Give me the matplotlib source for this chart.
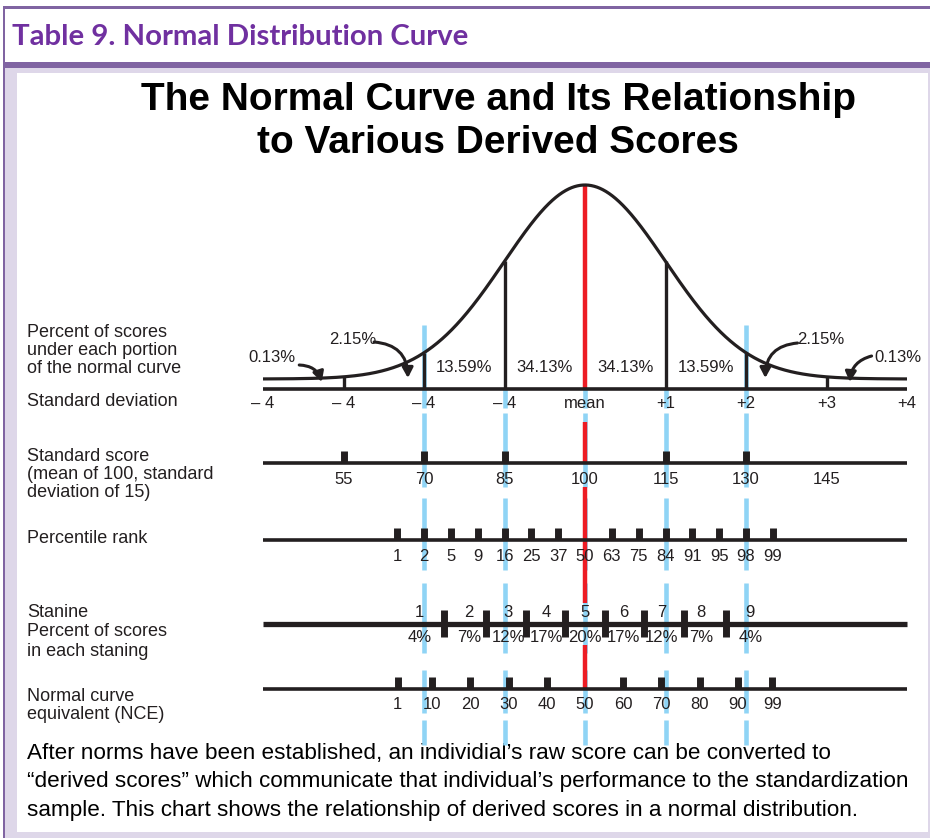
import math
import numpy as np
import matplotlib
matplotlib.use("Agg")
import matplotlib.pyplot as plt
from matplotlib.patches import Rectangle

# ---------------- data ----------------
band_percents = ["0.13%", "2.15%", "13.59%", "34.13%", "34.13%", "13.59%", "2.15%", "0.13%"]
sd_positions = [-4, -3, -2, -1, 0, 1, 2, 3, 4]
sd_labels = ["\u2013 4", "\u2013 4", "\u2013 4", "\u2013 4", "mean", "+1", "+2", "+3", "+4"]
standard_scores = [55, 70, 85, 100, 115, 130, 145]
standard_score_ticks = [55, 70, 85, 115, 130]
ss_mean, ss_sd = 100, 15
percentile_ranks = [1, 2, 5, 9, 16, 25, 37, 50, 63, 75, 84, 91, 95, 98, 99]
stanines = [1, 2, 3, 4, 5, 6, 7, 8, 9]
stanine_percents = [4, 7, 12, 17, 20, 17, 12, 7, 4]
nce_values = [1, 10, 20, 30, 40, 50, 60, 70, 80, 90, 99]
nce_mean, nce_sd = 50, 21.06

row_labels = {
    "pct": ["Percent of scores", "under each portion", "of the normal curve"],
    "sd": ["Standard deviation"],
    "ss": ["Standard score", "(mean of 100, standard", "deviation of 15)"],
    "pr": ["Percentile rank"],
    "st": ["Stanine", "Percent of scores", "in each staning"],
    "nce": ["Normal curve", "equivalent (NCE)"],
}
header = "Table 9. Normal Distribution Curve"
title_lines = ["The Normal Curve and Its Relationship", "to Various Derived Scores"]
footer = ["After norms have been established, an individial\u2019s raw score can be converted to",
          "\u201cderived scores\u201d which communicate that individual\u2019s performance to the standardization",
          "sample. This chart shows the relationship of derived scores in a normal distribution."]


def phi(z):
    return 0.5 * (1.0 + math.erf(z / math.sqrt(2.0)))


def ppf(p):
    lo, hi = -8.0, 8.0
    for _ in range(80):
        mid = 0.5 * (lo + hi)
        if phi(mid) < p:
            lo = mid
        else:
            hi = mid
    return 0.5 * (lo + hi)


# ---------------- style / layout ----------------
W, H = 930, 838
PURPLE = "#8064A2"
LAVENDER = "#DED7E9"
TITLE_PURPLE = "#7030A0"
INK = "#231F20"
RED = "#ED1C24"
BLUE = "#8FD4F5"
NARROW = ["Liberation Sans Narrow", "Liberation Sans", "DejaVu Sans"]
SANS = ["Liberation Sans", "DejaVu Sans"]

X0, PX_PER_SD = 585, 80.5
Y_PEAK, Y_TAIL, Y_SD = 185, 379, 389
Y_PCT, Y_SDLAB = 367, 403
Y_SS, Y_SSLAB = 463, 479
Y_PR, Y_PRLAB = 540, 556
Y_ST, Y_STNUM, Y_STPCT = 624, 612, 637
Y_NCE, Y_NCELAB = 689, 704
TICK_H = 12
LAB_FS = 12

fig = plt.figure(figsize=(W / 100, H / 100), dpi=100)
fig.patch.set_facecolor("white")

# background / frame axes (pixel coords)
bg = fig.add_axes([0, 0, 1, 1])
bg.set_xlim(0, W)
bg.set_ylim(H, 0)
bg.axis("off")
bg.add_patch(Rectangle((3, 68), W - 3, H - 68, facecolor=LAVENDER, edgecolor="none"))
bg.add_patch(Rectangle((17, 73), 911, 759, facecolor="white", edgecolor="none"))
bg.add_patch(Rectangle((3, 6), W - 3, 3, facecolor=PURPLE, edgecolor="none"))
bg.add_patch(Rectangle((3, 62), W - 3, 6, facecolor=PURPLE, edgecolor="none"))
bg.add_patch(Rectangle((2.5, 6), 2.5, H - 6, facecolor=PURPLE, edgecolor="none"))

bg.text(12, 37, header, fontsize=21.2, fontweight="bold", color=TITLE_PURPLE,
        family=["Lato", "Open Sans", "DejaVu Sans"], ha="left", va="center")
for y, line in zip([100, 143], title_lines):
    bg.text(498, y, line, fontsize=28, fontweight="bold", color="black",
            family=SANS, ha="center", va="center")

label_rows = [("pct", 332), ("sd", 401), ("ss", 456), ("pr", 538), ("st", 612), ("nce", 696)]
for key, y0 in label_rows:
    step = 19.5 if key == "st" else 18
    for i, line in enumerate(row_labels[key]):
        bg.text(27, y0 + i * step, line, fontsize=13, family=SANS, color=INK,
                ha="left", va="center")

for i, line in enumerate(footer):
    bg.text(27, 753 + i * 28.5, line, fontsize=16.2, family=SANS, color="black",
            ha="left", va="center")

# chart axes: x in standard-deviation units, y in layout pixels
ax = fig.add_axes([0, 0, 1, 1])
ax.set_xlim((0 - X0) / PX_PER_SD, (W - X0) / PX_PER_SD)
ax.set_ylim(H, 0)
ax.axis("off")
ax.patch.set_alpha(0)


def curve_y(z):
    return Y_TAIL - (Y_TAIL - Y_PEAK) * np.exp(-np.asarray(z, dtype=float) ** 2 / 2.0)


# blue guide lines (dashed with gaps between rows)
gaps = [(325, 388), (388, 408), (413, 487), (498, 570), (583, 653), (670, 713), (720, 745)]
for z in [-2, -1, 0, 1, 2]:
    segs = gaps if abs(z) == 2 else gaps[1:]
    for a, b in segs:
        ax.vlines(z, a, b, color=BLUE, lw=3.3, zorder=1, capstyle="butt")

# curve
zz = np.linspace(-4, 4, 1601)
ax.plot(zz, curve_y(zz), color=INK, lw=2.3, zorder=4, solid_capstyle="butt")

# verticals under curve
for z in [-3, -2, -1, 1, 2, 3]:
    ax.vlines(z, curve_y(z), Y_SD, color=INK, lw=2.4, zorder=4)
# red mean line
for a, b in [(float(curve_y(0)), Y_SD), (422, Y_SS), (487, 603), (645, Y_NCE)]:
    ax.vlines(0, a, b, color=RED, lw=3.2, zorder=3, capstyle="butt")

# axis lines
for y, lw in [(Y_SD, 2.6), (Y_SS, 2.6), (Y_PR, 2.6), (Y_ST, 3.8), (Y_NCE, 2.6)]:
    ax.hlines(y, -4, 4, color=INK, lw=lw, zorder=5, capstyle="butt")

# band percentages
inner_centers = [-1.5, -0.5, 0.5, 1.5]
for z, txt in zip(inner_centers, band_percents[2:6]):
    ax.text(z, Y_PCT, txt, fontsize=LAB_FS, family=NARROW, color=INK, ha="center", va="center", zorder=6)
# outer labels with curved arrows (label x, label y, arrow start, arrow end, curvature)
outer = [(-3.89, 357, -3.55, 365, -3.27, 382, -0.35, 0),
         (-2.89, 339, -2.62, 342, -2.2, 378, -0.45, 1),
         (2.93, 339, 2.64, 343, 2.24, 378, 0.45, 6),
         (3.89, 357, 3.56, 356, 3.29, 382, 0.35, 7)]
for tx, ty, sx, sy, ex, ey, rad, idx in outer:
    ax.text(tx, ty, band_percents[idx], fontsize=LAB_FS, family=NARROW, color=INK,
            ha="center", va="center", zorder=6)
    ax.annotate("", xy=(ex, ey), xytext=(sx, sy),
                arrowprops=dict(arrowstyle="-|>,head_length=0.6,head_width=0.32", color=INK, lw=2.2,
                                connectionstyle=f"arc3,rad={rad}", shrinkA=0, shrinkB=0),
                zorder=6)

# standard deviation labels
for z, lab in zip(sd_positions, sd_labels):
    ax.text(z, Y_SDLAB, lab, fontsize=LAB_FS, family=NARROW, color=INK, ha="center", va="center", zorder=6)

# standard score row
ss_z = [(s - ss_mean) / ss_sd for s in standard_score_ticks]
ax.vlines(ss_z, Y_SS - TICK_H, Y_SS, color=INK, lw=5, zorder=5, capstyle="butt")
for s in standard_scores:
    ax.text((s - ss_mean) / ss_sd, Y_SSLAB, str(s), fontsize=LAB_FS, family=NARROW, color=INK,
            ha="center", va="center", zorder=6)

# percentile rank row: the chart places each rank at the nearest third of an SD
pr_z = [round(3 * ppf(p / 100.0)) / 3 for p in percentile_ranks]
ax.vlines([z for z, p in zip(pr_z, percentile_ranks) if p != 50], Y_PR - TICK_H, Y_PR,
          color=INK, lw=5, zorder=5, capstyle="butt")
for z, p in zip(pr_z, percentile_ranks):
    ax.text(z, Y_PRLAB, str(p), fontsize=LAB_FS, family=NARROW, color=INK, ha="center", va="center", zorder=6)

# stanine row
cum = np.cumsum(stanine_percents) / 100.0
bounds = [ppf(c) for c in cum[:-1]]
ax.vlines(bounds, Y_ST - 14, Y_ST + 13, color=INK, lw=5, zorder=5, capstyle="butt")
mids = [ppf(c - p / 200.0) for c, p in zip(cum, stanine_percents)]
for z, s, p in zip(mids, stanines, stanine_percents):
    ax.text(z, Y_STNUM, str(s), fontsize=LAB_FS, family=NARROW, color=INK, ha="center", va="center", zorder=6)
    ax.text(z, Y_STPCT, f"{p}%", fontsize=LAB_FS, family=NARROW, color=INK, ha="center", va="center", zorder=6)

# NCE row
nce_z = [(v - nce_mean) / nce_sd for v in nce_values]
ax.vlines([z for z, v in zip(nce_z, nce_values) if v != 50], Y_NCE - TICK_H, Y_NCE,
          color=INK, lw=5, zorder=5, capstyle="butt")
for z, v in zip(nce_z, nce_values):
    ax.text(z, Y_NCELAB, str(v), fontsize=LAB_FS, family=NARROW, color=INK, ha="center", va="center", zorder=6)

fig.savefig("out.png", dpi=100, facecolor="white")
